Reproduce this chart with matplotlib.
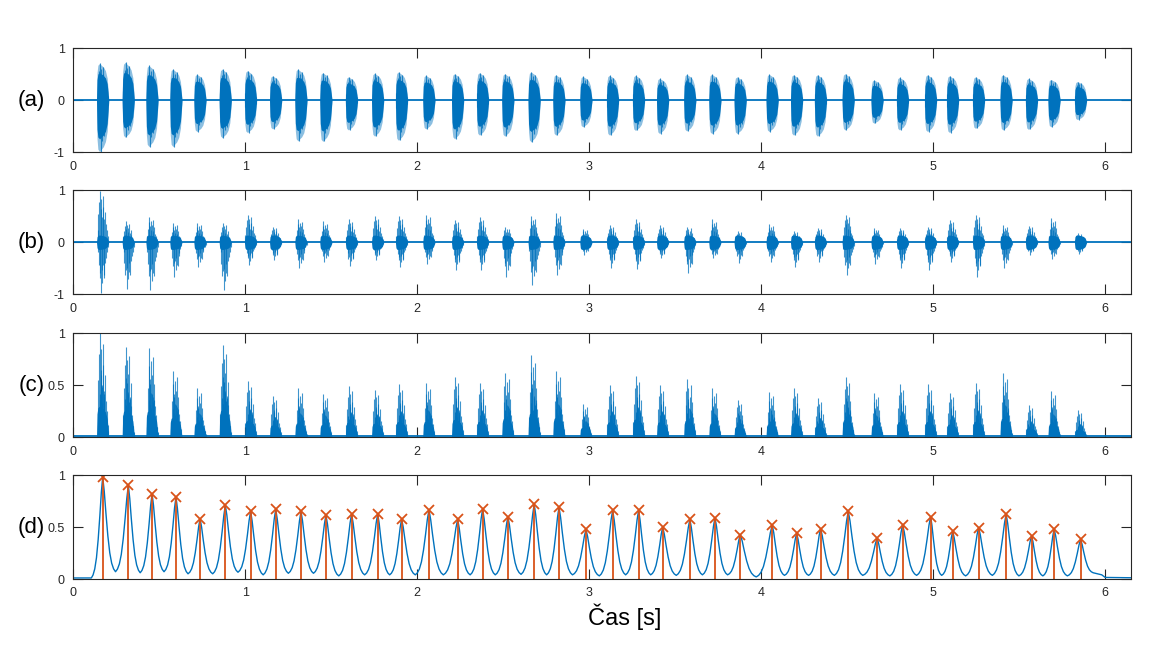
import matplotlib
matplotlib.use("Agg")
import matplotlib.pyplot as plt

# peak times [s] and envelope peak heights
peak_t = [0.171, 0.320, 0.458, 0.597, 0.737, 0.884, 1.031, 1.177, 1.324, 1.469,
          1.618, 1.770, 1.909, 2.068, 2.235, 2.380, 2.527, 2.680, 2.824, 2.981,
          3.136, 3.287, 3.427, 3.585, 3.731, 3.878, 4.064, 4.206, 4.345, 4.506,
          4.674, 4.822, 4.985, 5.113, 5.264, 5.424, 5.572, 5.703, 5.857]
peak_d = [0.98, 0.90, 0.82, 0.79, 0.58, 0.71, 0.65, 0.67, 0.65, 0.615,
          0.625, 0.625, 0.577, 0.665, 0.573, 0.674, 0.60, 0.72, 0.69, 0.476,
          0.66, 0.66, 0.50, 0.573, 0.59, 0.427, 0.52, 0.44, 0.485, 0.651,
          0.394, 0.524, 0.60, 0.46, 0.495, 0.625, 0.417, 0.48, 0.38]
# minima of the envelope between neighbouring peaks
trough_d = [0.07, 0.06, 0.07, 0.05, 0.05, 0.065, 0.04, 0.055, 0.055, 0.03,
            0.04, 0.04, 0.04, 0.04, 0.04, 0.04, 0.045, 0.04, 0.04, 0.03,
            0.04, 0.04, 0.035, 0.04, 0.04, 0.02, 0.035, 0.035, 0.035, 0.035,
            0.03, 0.035, 0.035, 0.03, 0.035, 0.03, 0.03, 0.03]

# burst extents in (a) and (b), maxima in (c)
a_top = [0.71, 0.73, 0.67, 0.60, 0.50, 0.60, 0.57, 0.47, 0.60, 0.53,
         0.45, 0.52, 0.545, 0.48, 0.51, 0.53, 0.51, 0.545, 0.49, 0.46,
         0.48, 0.48, 0.42, 0.50, 0.50, 0.45, 0.50, 0.49, 0.49, 0.51,
         0.39, 0.44, 0.49, 0.47, 0.45, 0.49, 0.42, 0.40, 0.36]
a_bot = [-0.99, -0.71, -0.89, -0.89, -0.60, -0.72, -0.62, -0.55, -0.78, -0.79,
         -0.57, -0.69, -0.77, -0.55, -0.74, -0.67, -0.69, -0.80, -0.67, -0.51,
         -0.67, -0.58, -0.64, -0.59, -0.64, -0.64, -0.60, -0.67, -0.69, -0.57,
         -0.44, -0.57, -0.60, -0.62, -0.54, -0.57, -0.56, -0.51, -0.37]
b_top = [0.98, 0.40, 0.48, 0.37, 0.37, 0.37, 0.53, 0.30, 0.44, 0.40,
         0.44, 0.50, 0.50, 0.53, 0.43, 0.48, 0.29, 0.50, 0.56, 0.26,
         0.33, 0.44, 0.33, 0.30, 0.44, 0.21, 0.35, 0.21, 0.28, 0.53,
         0.27, 0.27, 0.30, 0.43, 0.53, 0.33, 0.32, 0.46, 0.17]
b_bot = [-0.98, -0.89, -0.92, -0.66, -0.47, -0.92, -0.44, -0.34, -0.50, -0.37,
         -0.46, -0.34, -0.48, -0.41, -0.53, -0.53, -0.66, -0.82, -0.63, -0.24,
         -0.50, -0.52, -0.31, -0.60, -0.31, -0.39, -0.38, -0.48, -0.37, -0.62,
         -0.41, -0.50, -0.53, -0.37, -0.66, -0.50, -0.24, -0.33, -0.23]
c_max = [1.0, 0.87, 0.86, 0.64, 0.47, 0.89, 0.54, 0.40, 0.47, 0.42,
         0.49, 0.455, 0.51, 0.52, 0.58, 0.52, 0.62, 0.79, 0.64, 0.32,
         0.50, 0.59, 0.50, 0.56, 0.47, 0.36, 0.44, 0.47, 0.38, 0.58,
         0.43, 0.51, 0.51, 0.43, 0.52, 0.62, 0.31, 0.45, 0.26]
b_core = 0.14
t_end = 6.15

env_off = [-0.036, -0.033, -0.028, -0.018, -0.008, 0.004, 0.016, 0.026, 0.031, 0.035]
env_rel = [0.0, 0.75, 0.95, 1.0, 0.95, 0.9, 0.8, 0.6, 0.3, 0.0]
sp_off = [-0.030, -0.025, -0.020, -0.016, -0.012, -0.008, -0.004, 0.0,
          0.004, 0.008, 0.013, 0.018, 0.024, 0.030]
sp_up = [0.25, 0.55, 0.8, 1.0, 0.65, 0.85, 0.5, 0.7, 0.9, 0.45, 0.6, 0.35, 0.25, 0.12]
sp_dn = [0.2, 0.45, 0.7, 0.6, 1.0, 0.55, 0.8, 0.45, 0.65, 0.7, 0.4, 0.3, 0.2, 0.1]
# one side of an envelope bump: fraction of the way to the trough, relative height
d_frac = [0.0, 0.12, 0.25, 0.4, 0.55, 0.7, 0.85, 1.0]
d_rel = [1.0, 0.85, 0.62, 0.38, 0.2, 0.09, 0.03, 0.0]

BLUE = '#0072BD'
RED = '#D95319'
GREY = '#262626'

plt.rcParams['font.family'] = ['Liberation Sans', 'DejaVu Sans']
fig = plt.figure(figsize=(11.57, 6.51), dpi=100)

left, width, height = 73.3 / 1157, (1131 - 73.3) / 1157, 104 / 651
bottoms = [1 - 152.3 / 651, 1 - 294.3 / 651, 1 - 437.3 / 651, 1 - 579 / 651]
labels = ['(a)', '(b)', '(c)', '(d)']
axes = [fig.add_axes([left, b, width, height]) for b in bottoms]

ax = axes[0]
ax.plot([0, t_end], [0, 0], color=BLUE, lw=1.3)
for i, t in enumerate(peak_t):
    xs = [t + o for o in env_off]
    ax.fill_between(xs, [a_top[i] * r for r in env_rel], [a_bot[i] * r for r in env_rel],
                    color=BLUE, alpha=0.45, lw=0)
    ax.fill_between(xs, [0.75 * a_top[i] * r for r in env_rel],
                    [0.75 * a_bot[i] * r for r in env_rel], color=BLUE, lw=0)
    ax.vlines([t + o for o in sp_off], [a_bot[i] * s for s in sp_dn],
              [a_top[i] * s for s in sp_up], color=BLUE, lw=0.8, alpha=0.8)

ax = axes[1]
ax.plot([0, t_end], [0, 0], color=BLUE, lw=1.3)
for i, t in enumerate(peak_t):
    xs = [t + o for o in env_off]
    ax.fill_between(xs, [b_core * r for r in env_rel], [-b_core * r for r in env_rel],
                    color=BLUE, lw=0)
    ax.vlines([t + o for o in sp_off], 0, [b_top[i] * s for s in sp_up],
              color=BLUE, lw=0.8, alpha=0.75)
    ax.vlines([t + o + 0.002 for o in sp_off], [b_bot[i] * s for s in sp_dn], 0,
              color=BLUE, lw=0.8, alpha=0.75)

ax = axes[2]
ax.plot([0, t_end], [0.008, 0.008], color=BLUE, lw=1.3)
for i, t in enumerate(peak_t):
    xs = [t + o for o in env_off]
    ax.fill_between(xs, 0, [0.3 * c_max[i] * r for r in env_rel], color=BLUE, lw=0)
    ax.vlines([t + o for o in sp_off], 0, [c_max[i] * s for s in sp_up],
              color=BLUE, lw=0.8, alpha=0.75)
    ax.vlines([t + o + 0.002 for o in sp_off], 0, [0.6 * c_max[i] * s for s in sp_dn],
              color=BLUE, lw=0.8, alpha=0.9)

ax = axes[3]
d_t = [0.0, 0.105]
d_v = [0.01, 0.01]
n = len(peak_t)
for i, (t, p) in enumerate(zip(peak_t, peak_d)):
    lt = (peak_t[i - 1] + t) / 2 if i > 0 else 0.105
    lv = trough_d[i - 1] if i > 0 else 0.01
    rt = (peak_t[i + 1] + t) / 2 if i < n - 1 else 5.93
    rv = trough_d[i] if i < n - 1 else 0.06
    for f, r in zip(d_frac[:0:-1], d_rel[:0:-1]):
        d_t.append(t - f * (t - lt))
        d_v.append(lv + (p - lv) * r)
    for f, r in zip(d_frac, d_rel):
        if i < n - 1 and f == 1.0:
            continue
        d_t.append(t + f * (rt - t))
        d_v.append(rv + (p - rv) * r)
d_t += [5.98, 6.0, t_end]
d_v += [0.04, 0.015, 0.012]
ax.plot(d_t, d_v, color=BLUE, lw=1)
ax.vlines(peak_t, 0, peak_d, color=RED, lw=1.3)
ax.plot(peak_t, peak_d, 'x', color=RED, ms=7, mew=1.3)

for k, ax in enumerate(axes):
    ax.set_xlim(0, t_end)
    if k < 2:
        ax.set_ylim(-1, 1)
        ax.set_yticks([-1, 0, 1])
        ax.set_yticklabels(['-1', '0', '1'])
    else:
        ax.set_ylim(0, 1)
        ax.set_yticks([0, 0.5, 1])
        ax.set_yticklabels(['0', '0.5', '1'])
    ax.set_xticks(range(7))
    ax.tick_params(direction='in', length=7, width=0.8, top=True, right=True,
                   labelsize=9, colors=GREY, pad=6)
    for s in ax.spines.values():
        s.set_color(GREY)
        s.set_linewidth(0.8)
    fig.text(45 / 1157, bottoms[k] + height / 2, labels[k], ha='right', va='center',
             fontsize=16, color='black')

fig.text(624.5 / 1157, 1 - 617 / 651, 'Čas [s]', ha='center', va='center',
         fontsize=17, color='black')

fig.savefig('out.png', dpi=100)
